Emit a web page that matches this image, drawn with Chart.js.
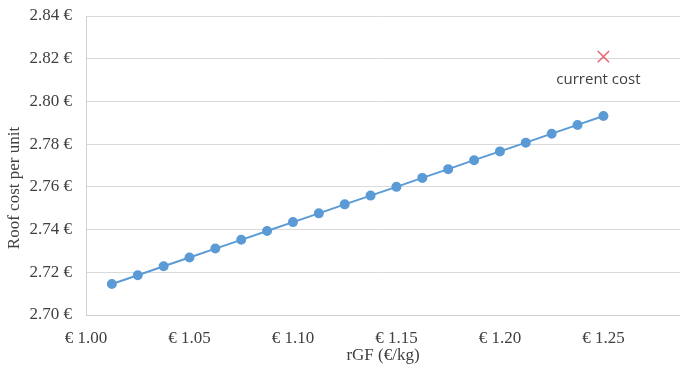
<!DOCTYPE html>
<html>
<head>
<meta charset="utf-8">
<script src="https://cdn.jsdelivr.net/npm/chart.js@4.4.1/dist/chart.umd.min.js"></script>
<style>
  html, body { margin: 0; padding: 0; background: #fff; }
  #wrap { width: 680px; height: 366px; }
</style>
</head>
<body>
<div id="wrap"><canvas id="chart" width="680" height="366"></canvas></div>
<script>
// rGF price (€/kg) and roof cost per unit (€)
const rgfPrices = [1.0125, 1.025, 1.0375, 1.05, 1.0625, 1.075, 1.0875, 1.10, 1.1125, 1.125,
                   1.1375, 1.15, 1.1625, 1.175, 1.1875, 1.20, 1.2125, 1.225, 1.2375, 1.25];
const roofCost = [2.7145, 2.7186, 2.7228, 2.7269, 2.7311, 2.7352, 2.7393, 2.7435, 2.7476, 2.7518,
                  2.7559, 2.7600, 2.7642, 2.7683, 2.7725, 2.7766, 2.7807, 2.7849, 2.7890, 2.7932];
const currentPrice = [1.25];
const currentCost = [2.821];
const currentLabel = 'current cost';
const yTitle = 'Roof cost per unit';

const serif = '"Liberation Serif", "Times New Roman", serif';
const textColor = '#404040';

const costLine = rgfPrices.map((x, i) => ({ x: x, y: roofCost[i] }));
const currentPoint = currentPrice.map((x, i) => ({ x: x, y: currentCost[i] }));

// label under the red cross + y axis title (sits a bit low in the original)
const labelPlugin = {
    id: 'extraText',
    afterDraw(chart) {
        const ctx = chart.ctx;
        ctx.save();
        const pt = chart.getDatasetMeta(1).data[0];
        if (pt) {
            ctx.font = '15px "Open Sans", "Liberation Sans", sans-serif';
            ctx.fillStyle = textColor;
            ctx.textAlign = 'center';
            ctx.textBaseline = 'middle';
            ctx.fillText(currentLabel, pt.x - 5, pt.y + 23);
        }
        ctx.translate(15, 188);
        ctx.rotate(-Math.PI / 2);
        ctx.font = '17px ' + serif;
        ctx.fillStyle = textColor;
        ctx.textAlign = 'center';
        ctx.textBaseline = 'middle';
        ctx.fillText(yTitle, 0, 0);
        ctx.restore();
    }
};

new Chart(document.getElementById('chart').getContext('2d'), {
    type: 'scatter',
    data: {
        datasets: [{
            label: 'Roof cost',
            data: costLine,
            showLine: true,
            borderColor: '#5b9bd5',
            backgroundColor: '#5b9bd5',
            borderWidth: 2,
            pointRadius: 4,
            pointHoverRadius: 4
        }, {
            label: currentLabel,
            data: currentPoint,
            pointStyle: 'crossRot',
            pointRadius: 8,
            borderColor: '#e8636c',
            borderWidth: 1.5
        }]
    },
    options: {
        responsive: false,
        animation: false,
        layout: { autoPadding: false, padding: { left: 0, right: 0, top: 16, bottom: 0 } },
        plugins: {
            legend: { display: false },
            tooltip: { enabled: false }
        },
        scales: {
            x: {
                type: 'linear',
                min: 1.00,
                max: 1.287,
                afterBuildTicks(scale) {
                    scale.ticks = scale.ticks.filter(t => Math.abs(t.value * 20 - Math.round(t.value * 20)) < 1e-6);
                },
                afterFit(scale) {
                    scale.height = 51;
                    scale.paddingRight = 0;
                    scale.paddingLeft = 0;
                },
                grid: { display: false, drawTicks: false },
                border: { display: true, color: '#d0d0d0', width: 1 },
                ticks: {
                    stepSize: 0.05,
                    padding: 13,
                    color: textColor,
                    font: { family: serif, size: 17 },
                    callback: v => '€ ' + Number(v).toFixed(2)
                },
                title: {
                    display: true,
                    text: 'rGF (€/kg)',
                    color: textColor,
                    font: { family: serif, size: 17 },
                    padding: { top: 0, bottom: 0 }
                }
            },
            y: {
                min: 2.70,
                max: 2.84,
                afterFit(scale) {
                    scale.width = 86;
                    scale.paddingTop = 0;
                    scale.paddingBottom = 0;
                },
                grid: { color: '#d9d9d9', drawTicks: false, lineWidth: 1 },
                border: { display: true, color: '#d0d0d0', width: 1 },
                ticks: {
                    stepSize: 0.02,
                    padding: 14,
                    color: textColor,
                    font: { family: serif, size: 17 },
                    callback: v => Number(v).toFixed(2) + ' €'
                },
                title: { display: false }
            }
        }
    },
    plugins: [labelPlugin]
});
</script>
</body>
</html>
